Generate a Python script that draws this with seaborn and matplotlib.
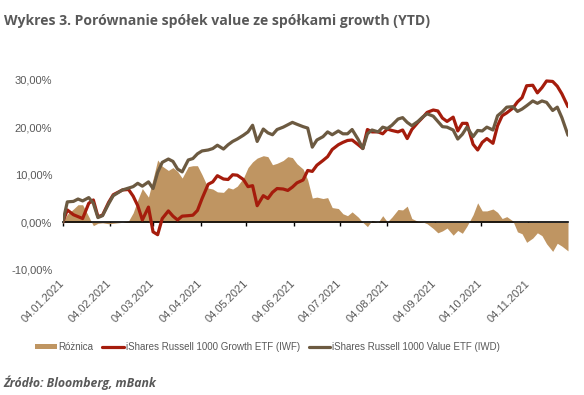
import pandas as pd
import numpy as np
import matplotlib
matplotlib.use("Agg")
import matplotlib.pyplot as plt
import matplotlib.dates as mdates
import seaborn as sns

# Dane (stopa zwrotu YTD w %)
daty = [
    "2021-01-04", "2021-01-07", "2021-01-11", "2021-01-14", "2021-01-17", "2021-01-21",
    "2021-01-24", "2021-01-27", "2021-01-30", "2021-02-03", "2021-02-06", "2021-02-09",
    "2021-02-12", "2021-02-16", "2021-02-19", "2021-02-22", "2021-02-25", "2021-03-01",
    "2021-03-04", "2021-03-07", "2021-03-10", "2021-03-14", "2021-03-17", "2021-03-20",
    "2021-03-23", "2021-03-27", "2021-03-30", "2021-04-02", "2021-04-05", "2021-04-09",
    "2021-04-12", "2021-04-15", "2021-04-19", "2021-04-22", "2021-04-25", "2021-04-28",
    "2021-05-02", "2021-05-05", "2021-05-08", "2021-05-11", "2021-05-15", "2021-05-18",
    "2021-05-21", "2021-05-24", "2021-05-28", "2021-05-31", "2021-06-03", "2021-06-06",
    "2021-06-10", "2021-06-13", "2021-06-16", "2021-06-19", "2021-06-23", "2021-06-26",
    "2021-06-29", "2021-07-03", "2021-07-06", "2021-07-09", "2021-07-12", "2021-07-16",
    "2021-07-19", "2021-07-22", "2021-07-25", "2021-07-29", "2021-08-01", "2021-08-04",
    "2021-08-07", "2021-08-11", "2021-08-14", "2021-08-17", "2021-08-20", "2021-08-24",
    "2021-08-27", "2021-08-30", "2021-09-03", "2021-09-06", "2021-09-09", "2021-09-12",
    "2021-09-16", "2021-09-19", "2021-09-22", "2021-09-25", "2021-09-29", "2021-10-02",
    "2021-10-05", "2021-10-08", "2021-10-12", "2021-10-15", "2021-10-18", "2021-10-21",
    "2021-10-25", "2021-10-28", "2021-10-31", "2021-11-03", "2021-11-07", "2021-11-10",
    "2021-11-13", "2021-11-16", "2021-11-20", "2021-11-23", "2021-11-26", "2021-11-30",
]

iwd_value = [
    0.0, 4.3, 4.4, 4.9, 4.5, 5.2, 4.0, 1.0, 1.4, 3.9, 5.6, 6.2,
    6.8, 7.2, 7.5, 8.2, 7.6, 8.5, 7.1, 10.5, 12.6, 13.3, 12.8, 11.2,
    10.6, 13.1, 13.4, 14.4, 15.0, 15.2, 15.5, 16.2, 15.4, 16.3, 17.0, 17.5,
    18.3, 19.0, 20.4, 17.0, 19.6, 18.8, 18.4, 19.5, 20.0, 20.5, 21.0, 20.6,
    20.1, 19.8, 15.8, 17.3, 18.0, 19.0, 18.4, 19.2, 18.6, 18.6, 19.5, 17.4,
    15.5, 18.6, 19.4, 19.0, 20.0, 19.7, 20.4, 21.7, 22.0, 21.0, 20.3, 21.2,
    22.1, 22.8, 22.3, 21.2, 20.1, 20.0, 19.4, 17.5, 18.5, 20.0, 18.0, 19.3,
    19.2, 20.0, 19.4, 22.4, 23.2, 24.2, 24.3, 23.3, 23.8, 24.5, 25.5, 25.0,
    25.5, 25.2, 23.5, 24.2, 22.0, 18.3,
]

iwf_growth = [
    0.0, 2.6, 1.6, 1.2, 0.8, 4.0, 4.7, 1.2, 1.5, 4.2, 5.8, 6.3,
    6.8, 6.9, 5.5, 3.5, 0.5, 3.2, -2.0, -2.6, 0.8, 2.4, 1.3, 0.5,
    1.3, 1.4, 1.5, 2.5, 5.0, 8.0, 8.5, 9.8, 9.1, 9.0, 10.0, 9.9,
    9.0, 7.5, 7.7, 3.5, 5.6, 5.0, 6.3, 7.1, 7.0, 6.7, 7.4, 8.3,
    8.9, 10.9, 10.7, 12.0, 13.0, 13.8, 15.3, 16.3, 16.8, 17.2, 17.3, 16.3,
    15.5, 19.5, 19.0, 19.0, 18.6, 19.6, 19.3, 19.0, 19.4, 17.6, 19.5, 21.0,
    22.0, 23.1, 23.6, 23.4, 21.9, 21.2, 22.1, 19.2, 20.8, 20.8, 16.4, 15.2,
    16.8, 17.6, 16.6, 20.3, 22.4, 23.0, 24.0, 25.3, 26.2, 28.7, 28.8, 27.2,
    28.3, 29.7, 29.6, 28.6, 27.0, 24.3,
]

etykiety_y = [-10, 0, 10, 20, 30]
daty_osi = ["2021-01-04", "2021-02-04", "2021-03-04", "2021-04-04", "2021-05-04", "2021-06-04",
            "2021-07-04", "2021-08-04", "2021-09-04", "2021-10-04", "2021-11-04"]

NAZWA_ROZNICA = "Różnica"
NAZWA_GROWTH = "iShares Russell 1000 Growth ETF (IWF)"
NAZWA_VALUE = "iShares Russell 1000 Value ETF (IWD)"

KOLOR_ROZNICA = "#BF9562"
KOLOR_GROWTH = "#A51C0C"
KOLOR_VALUE = "#6C5A41"
KOLOR_TEKST = "#595959"

df = pd.DataFrame({
    "data": pd.to_datetime(daty),
    "growth": iwf_growth,
    "value": iwd_value,
})
df["roznica"] = df["value"] - df["growth"]

sns.set_theme(style="white")
plt.rcParams["font.family"] = ["Liberation Sans", "DejaVu Sans"]

fig = plt.figure(figsize=(5.84, 3.95), dpi=100)
ax = fig.add_axes([0.1074, 0.3106, 0.8652, 0.5061])

ax.fill_between(df["data"], 0, df["roznica"], color=KOLOR_ROZNICA, linewidth=0,
                label=NAZWA_ROZNICA, zorder=1)
sns.lineplot(data=df, x="data", y="growth", ax=ax, color=KOLOR_GROWTH, linewidth=2.3,
             label=NAZWA_GROWTH, zorder=3)
sns.lineplot(data=df, x="data", y="value", ax=ax, color=KOLOR_VALUE, linewidth=2.3,
             label=NAZWA_VALUE, zorder=3)

ax.set_xlim(df["data"].iloc[0], df["data"].iloc[-1])
ax.set_ylim(-10.5, 31.5)
ax.set_xlabel("")
ax.set_ylabel("")

# os Y
ax.set_yticks(etykiety_y)
ax.set_yticklabels([f"{v:.2f}%".replace(".", ",") for v in etykiety_y])
ax.tick_params(axis="y", length=0, pad=7.5, labelsize=8, labelcolor=KOLOR_TEKST)

# linia zera z kreskami
for s in ["left", "right", "top"]:
    ax.spines[s].set_visible(False)
ax.spines["bottom"].set_position(("data", 0))
ax.spines["bottom"].set_color("black")
ax.spines["bottom"].set_linewidth(1.2)
ax.spines["bottom"].set_zorder(2)
tick_dates = pd.to_datetime(daty_osi)
ax.set_xticks(tick_dates)
ax.tick_params(axis="x", direction="out", length=3, width=1, color="black",
               labelbottom=False, bottom=True)

# etykiety dat na dole wykresu
sec = ax.secondary_xaxis(0.0)
sec.set_xticks(mdates.date2num(tick_dates))
sec.set_xticklabels([d.strftime("%d.%m.%Y") for d in tick_dates], rotation=45,
                    ha="right", va="center", rotation_mode="anchor")
sec.tick_params(length=0, pad=7, labelsize=8, labelcolor=KOLOR_TEKST)
sec.spines["bottom"].set_visible(False)

ax.get_legend().remove()
handles, labels = ax.get_legend_handles_labels()
fig.legend(handles, labels, loc="center", bbox_to_anchor=(0.458, 0.122), ncol=3,
           frameon=False, fontsize=7, labelcolor=KOLOR_TEKST, handlelength=2.2,
           handletextpad=0.2, columnspacing=0.9, handleheight=0.5)

fig.text(0.006, 0.947, "Wykres 3. Porównanie spółek value ze spółkami growth (YTD)",
         fontsize=10.1, fontweight="bold", color=KOLOR_TEKST, family=["Open Sans", "DejaVu Sans"],
         va="center", ha="left")
fig.text(0.006, 0.03, "Źródło: Bloomberg, mBank", fontsize=8.8, fontweight="bold",
         fontstyle="italic", color=KOLOR_TEKST, family=["Open Sans", "DejaVu Sans"],
         va="center", ha="left")

fig.savefig("out.png", dpi=100)
